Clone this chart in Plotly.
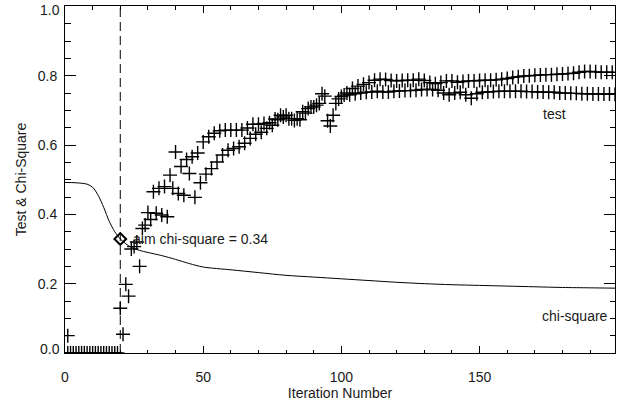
import plotly.graph_objects as go

# ---- data ----
zero_iters = list(range(1, 20))
zero_vals = [0.0] * len(zero_iters)
early_iter = [1]
early_val = [0.05]

upper_iters = list(range(20, 200, 2))
upper_vals = [
    0.129, 0.198, 0.300, 0.320, 0.359, 0.405, 0.465, 0.475, 0.480, 0.513,
    0.580, 0.538, 0.558, 0.566, 0.577, 0.609, 0.624, 0.634, 0.641, 0.643,
    0.643, 0.643, 0.643, 0.649, 0.660, 0.660, 0.662, 0.664, 0.675, 0.686,
    0.686, 0.676, 0.676, 0.696, 0.705, 0.710, 0.720, 0.741, 0.655, 0.720,
    0.740, 0.750, 0.763, 0.770, 0.775, 0.780, 0.787, 0.790, 0.789, 0.786,
    0.785, 0.786, 0.787, 0.787, 0.790, 0.786, 0.780, 0.777, 0.780, 0.785,
    0.785, 0.781, 0.783, 0.785, 0.785, 0.786, 0.787, 0.787, 0.788, 0.790,
    0.792, 0.795, 0.797, 0.799, 0.800, 0.801, 0.802, 0.803, 0.803, 0.804,
    0.805, 0.806, 0.807, 0.810, 0.812, 0.812, 0.811, 0.810, 0.810, 0.810,
]

lower_iters = list(range(21, 200, 2))
lower_vals = [
    0.054, 0.164, 0.307, 0.250, 0.369, 0.385, 0.403, 0.398, 0.393, 0.475,
    0.460, 0.455, 0.518, 0.449, 0.491, 0.516, 0.532, 0.551, 0.571, 0.585,
    0.590, 0.595, 0.605, 0.619, 0.631, 0.637, 0.648, 0.657, 0.673, 0.681,
    0.676, 0.671, 0.673, 0.692, 0.710, 0.715, 0.748, 0.670, 0.686, 0.733,
    0.744, 0.745, 0.748, 0.750, 0.752, 0.753, 0.755, 0.753, 0.753, 0.755,
    0.756, 0.757, 0.757, 0.758, 0.760, 0.760, 0.760, 0.758, 0.750, 0.745,
    0.750, 0.752, 0.745, 0.735, 0.748, 0.752, 0.753, 0.754, 0.755, 0.755,
    0.755, 0.755, 0.755, 0.754, 0.754, 0.753, 0.753, 0.752, 0.752, 0.750,
    0.750, 0.749, 0.749, 0.748, 0.748, 0.747, 0.747, 0.747, 0.747, 0.746,
]

chi_iters = [0, 4, 8, 10, 12, 14, 16, 18, 20, 22, 24, 27, 30, 35, 40, 45, 50,
             60, 70, 80, 90, 100, 110, 120, 130, 140, 150, 160, 170, 180, 190, 199]
chi_vals = [0.492, 0.491, 0.487, 0.478, 0.455, 0.420, 0.380, 0.350, 0.329, 0.315,
            0.305, 0.296, 0.290, 0.281, 0.270, 0.258, 0.248, 0.240, 0.232, 0.224,
            0.219, 0.214, 0.209, 0.204, 0.200, 0.197, 0.195, 0.193, 0.191, 0.189,
            0.188, 0.187]

aim_iter = 20
aim_val = 0.329
aim_label = "aim chi-square = 0.34"
x_ticks = [0, 50, 100, 150]
y_ticks = [0.0, 0.2, 0.4, 0.6, 0.8, 1.0]

FONT = "Liberation Sans, Arial, Helvetica, sans-serif"
INK = "#1a1a1a"
FS = 14

marker_style = dict(symbol="cross-thin", size=10, color="black",
                    line=dict(color="black", width=1.4))

fig = go.Figure()

for xs, ys in [(zero_iters, zero_vals), (early_iter, early_val),
               (upper_iters, upper_vals), (lower_iters, lower_vals)]:
    fig.add_trace(go.Scatter(x=xs, y=ys, mode="markers", marker=marker_style,
                             showlegend=False, cliponaxis=True))

fig.add_trace(go.Scatter(x=chi_iters, y=chi_vals, mode="lines",
                         line=dict(color="black", width=1, shape="spline", smoothing=0.8),
                         showlegend=False))

fig.add_trace(go.Scatter(x=[aim_iter], y=[aim_val], mode="markers",
                         marker=dict(symbol="diamond-open", size=9, color="black",
                                     line=dict(color="black", width=2)),
                         showlegend=False))

fig.add_vline(x=aim_iter, line=dict(color="black", width=1, dash="9px,5px"))

fig.add_annotation(x=23.9, y=aim_val, text=aim_label, showarrow=False,
                   xanchor="left", yanchor="middle",
                   font=dict(family=FONT, size=FS, color=INK))
fig.add_annotation(x=177.1, y=0.689, text="test", showarrow=False,
                   xanchor="center", yanchor="middle",
                   font=dict(family=FONT, size=FS, color=INK))
fig.add_annotation(x=184.5, y=0.107, text="chi-square", showarrow=False,
                   xanchor="center", yanchor="middle",
                   font=dict(family=FONT, size=FS, color=INK))

# end tick labels, nudged inward like the original axis labels (yshift>0 is up)
inner_labels = {0.0: 4, 1.0: -4}
for v, shift in inner_labels.items():
    fig.add_annotation(xref="paper", x=0, y=v, text=f"{v:.1f}", showarrow=False,
                       xanchor="right", yanchor="middle", xshift=-3, yshift=shift,
                       font=dict(family=FONT, size=FS, color=INK))

fig.update_layout(
    width=631, height=403,
    margin=dict(l=65, r=16, t=6, b=50, autoexpand=False),
    paper_bgcolor="white", plot_bgcolor="white",
    font=dict(family=FONT, size=FS, color=INK),
    showlegend=False,
)
fig.update_xaxes(
    range=[0, 199], tickvals=x_ticks, ticktext=[str(v) for v in x_ticks],
    ticks="inside", ticklen=7, tickwidth=1, tickcolor="black",
    minor=dict(dtick=10, tick0=0, ticks="inside", ticklen=3.5, tickcolor="black", tickwidth=1),
    showline=True, linecolor="black", linewidth=1, mirror="ticks",
    showgrid=False, zeroline=False, automargin=False,
    title=dict(text="Iteration Number", standoff=4, font=dict(size=FS)),
    ticklabelstandoff=11,
)
fig.update_yaxes(
    range=[0, 1.001], tickvals=y_ticks,
    ticktext=["" if v in inner_labels else f"{v:.1f}" for v in y_ticks],
    ticks="inside", ticklen=11, tickwidth=1, tickcolor="black",
    minor=dict(dtick=0.05, tick0=0, ticks="inside", ticklen=5.5, tickcolor="black", tickwidth=1),
    showline=True, linecolor="black", linewidth=1, mirror="ticks",
    showgrid=False, zeroline=False, automargin=False,
    title=dict(text="Test & Chi-Square", standoff=7, font=dict(size=FS)),
    ticklabelstandoff=4,
)

fig.write_html("out.html")
